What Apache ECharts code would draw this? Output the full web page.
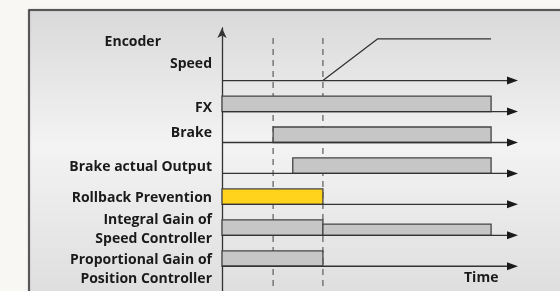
<!DOCTYPE html>
<html>
<head>
<meta charset="utf-8">
<script src="https://cdn.jsdelivr.net/npm/echarts@6/dist/echarts.min.js"></script>
<style>
  html, body { margin: 0; padding: 0; background: #f8f7f3; }
  #chart { width: 560px; height: 291px; }
</style>
</head>
<body>
<div id="chart"></div>
<script>
// signal rows, top to bottom (lane = level of the row baseline)
const rowNames = ['Speed', 'FX', 'Brake', 'Brake actual Output', 'Rollback Prevention',
  'Integral Gain of\nSpeed Controller', 'Proportional Gain of\nPosition Controller']
const rowLane = [6, 5, 4, 3, 2, 1, 0]

// on/off blocks: lane, start time, end time, height, active (yellow)
const barLane = [5, 4, 3, 2, 1, 1, 0]
const barStart = [0, 19, 26.3, 0, 0, 37.5, 0]
const barEnd = [100, 100, 100, 37.5, 37.5, 100, 37.5]
const barHeight = [0.5, 0.5, 0.5, 0.5, 0.5, 0.36, 0.5]
const barActive = [false, false, false, true, false, false, false]

// encoder speed trace (time, level above speed baseline)
const speedTime = [37.5, 57.9, 100]
const speedLevel = [0, 1.35, 1.35]

// event markers (dashed)
const eventTime = [19, 37.5]

const timeMax = 110
const laneMin = -0.8
const laneMax = 7.7

// label vertical offset from the row baseline, px
const labelDy = [-16.6, -3.6, -9.5, -6.8, -6.7, -6, 3.7]

const FONT = '"Open Sans", "DejaVu Sans", sans-serif'
const chart = echarts.init(document.getElementById('chart'))

chart.setOption({
  animation: false,
  graphic: [
    {
      type: 'rect',
      z: -10,
      shape: { x: 29, y: 10, width: 540, height: 300 },
      style: {
        fill: new echarts.graphic.LinearGradient(0, 0, 0, 1, [
          { offset: 0, color: '#d9d9d9' },
          { offset: 0.45, color: '#f3f3f3' },
          { offset: 1, color: '#dcdcdc' }
        ]),
        stroke: '#333',
        lineWidth: 1.5,
        shadowColor: 'rgba(0,0,0,0.25)',
        shadowBlur: 2
      }
    },
    {
      type: 'text',
      left: 464,
      top: 271,
      style: { text: 'Time', font: 'bold 14px ' + FONT, fill: '#1a1a1a' }
    }
  ],
  grid: { left: 222, right: 42, top: 28, bottom: 0 },
  xAxis: { type: 'value', min: 0, max: timeMax, show: false },
  yAxis: {
    type: 'value',
    min: laneMin,
    max: laneMax,
    splitLine: { show: false },
    axisTick: { show: false },
    axisLabel: { show: false },
    axisLine: {
      show: true,
      symbol: ['none', 'arrow'],
      symbolSize: [7, 10],
      lineStyle: { color: '#333', width: 1.3 }
    }
  },
  series: [
    {
      // event markers
      type: 'custom',
      data: eventTime.map(t => [t]),
      z: 1,
      renderItem (params, api) {
        const top = api.coord([api.value(0), 7.38])
        const bot = api.coord([api.value(0), laneMin])
        return {
          type: 'line',
          shape: { x1: top[0], y1: top[1], x2: bot[0], y2: bot[1] },
          style: { stroke: '#666', lineWidth: 1.3, lineDash: [6, 5] }
        }
      }
    },
    {
      // blocks
      type: 'custom',
      z: 2,
      data: barLane.map((l, i) => [barStart[i], barEnd[i], l, barHeight[i], barActive[i] ? 1 : 0]),
      renderItem (params, api) {
        const p0 = api.coord([api.value(0), api.value(2) + api.value(3)])
        const p1 = api.coord([api.value(1), api.value(2)])
        return {
          type: 'rect',
          shape: { x: p0[0], y: p0[1], width: p1[0] - p0[0], height: p1[1] - p0[1] },
          style: {
            fill: api.value(4) ? '#ffd21c' : '#c6c6c6',
            stroke: '#444',
            lineWidth: 1.3
          }
        }
      }
    },
    {
      // row baselines with arrows + labels
      type: 'custom',
      z: 3,
      data: rowLane.map((l, i) => [l, i]),
      renderItem (params, api) {
        const i = api.value(1)
        const a = api.coord([0, api.value(0)])
        const b = api.coord([timeMax, api.value(0)])
        const children = [
          {
            type: 'line',
            shape: { x1: a[0], y1: a[1], x2: b[0] - 8, y2: a[1] },
            style: { stroke: '#333', lineWidth: 1.3 }
          },
          {
            type: 'polygon',
            shape: { points: [[b[0] - 11, a[1] - 4], [b[0], a[1]], [b[0] - 11, a[1] + 4]] },
            style: { fill: '#1a1a1a' }
          },
          {
            type: 'text',
            x: a[0] - 10,
            y: a[1] + labelDy[i],
            style: {
              text: rowNames[i],
              align: 'right',
              verticalAlign: 'middle',
              font: 'bold 14px ' + FONT,
              lineHeight: 19,
              fill: '#1a1a1a'
            }
          }
        ]
        if (i === 0) {
          children.push({
            type: 'text',
            x: a[0] - 61,
            y: a[1] - 38.6,
            style: {
              text: 'Encoder',
              align: 'right',
              verticalAlign: 'middle',
              font: 'bold 14px ' + FONT,
              fill: '#1a1a1a'
            }
          })
        }
        return { type: 'group', children }
      }
    },
    {
      // encoder speed
      type: 'line',
      z: 4,
      symbol: 'none',
      data: speedTime.map((t, i) => [t, rowLane[0] + speedLevel[i]]),
      lineStyle: { color: '#333', width: 1.3 }
    }
  ]
})
</script>
</body>
</html>
